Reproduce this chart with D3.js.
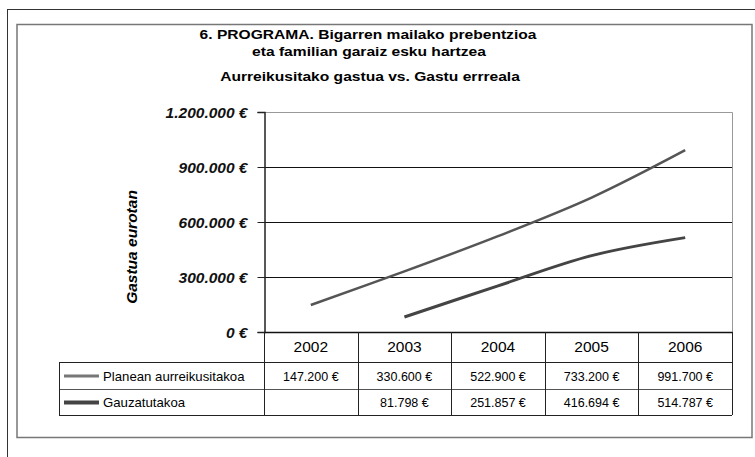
<!DOCTYPE html>
<html>
<head>
<meta charset="utf-8">
<script src="https://cdn.jsdelivr.net/npm/d3@7"></script>
<style>
  body { margin: 0; background: #fff; }
  svg text { font-family: "Liberation Sans", Arial, sans-serif; }
</style>
</head>
<body>
<div id="chart"></div>
<script>
// chart data
const years = ['2002', '2003', '2004', '2005', '2006'];
const planned = [147200, 330600, 522900, 733200, 991700];
const actual = [null, 81798, 251857, 416694, 514787];
const seriesNames = ['Planean aurreikusitakoa', 'Gauzatutakoa'];
const yTicks = [0, 300000, 600000, 900000, 1200000];
const titleLines = ['6. PROGRAMA. Bigarren mailako prebentzioa', 'eta familian garaiz esku hartzea'];
const subtitle = 'Aurreikusitako gastua vs. Gastu errreala';
const yTitle = 'Gastua eurotan';

const width = 755, height = 457;
const plot = { left: 264, right: 732, top: 112, bottom: 332 };
const table = { left: 59, row1: 362, row2: 389, bottom: 415 };

const fmt = v => v.toLocaleString('de-DE') + ' €';

const svg = d3.select('#chart')
    .append('svg')
    .attr('width', width)
    .attr('height', height);

// frames
svg.append('rect')
    .attr('x', 7.5).attr('y', 9.5)
    .attr('width', 760).attr('height', 460)
    .attr('fill', 'none').attr('stroke', '#333').attr('stroke-width', 1);
svg.append('rect')
    .attr('x', 17).attr('y', 24.5)
    .attr('width', 735).attr('height', 413)
    .attr('fill', 'none').attr('stroke', '#777').attr('stroke-width', 1.5);

// titles (the original font is a bit wider, so stretch horizontally)
function wideText(x, y, txt) {
    svg.append('text')
        .attr('transform', `translate(${x},${y}) scale(1.2,1)`)
        .attr('text-anchor', 'middle')
        .attr('font-weight', 'bold')
        .style('font-size', '13px')
        .text(txt);
}
wideText(368, 39, titleLines[0]);
wideText(369, 56, titleLines[1]);
wideText(370, 81, subtitle);

const x = d3.scaleBand()
    .domain(years)
    .range([plot.left, plot.right]);

const y = d3.scaleLinear()
    .domain([0, 1200000])
    .range([plot.bottom, plot.top]);

// plot border (top/right)
svg.append('path')
    .attr('d', `M${plot.left},${plot.top + 0.5}H${plot.right + 0.5}V${plot.bottom}`)
    .attr('fill', 'none').attr('stroke', '#999');

// gridlines
svg.append('g')
    .selectAll('line')
    .data(yTicks.slice(1, -1))
    .enter()
    .append('line')
    .attr('x1', plot.left).attr('x2', plot.right)
    .attr('y1', d => Math.round(y(d)) + 0.5)
    .attr('y2', d => Math.round(y(d)) + 0.5)
    .attr('stroke', '#111');

// y axis
const yAxis = svg.append('g')
    .attr('transform', `translate(${plot.left + 0.5},0)`)
    .call(d3.axisLeft(y).tickValues(yTicks).tickSize(7).tickPadding(10)
        .tickFormat(d => d3.format(',')(d).replace(/,/g, '.') + ' €'));
yAxis.select('.domain').attr('stroke', '#222').attr('stroke-width', 1.5);
yAxis.selectAll('.tick line').attr('stroke', '#222');
yAxis.selectAll('text')
    .attr('dy', '0.36em')
    .style('font-size', '15.5px')
    .style('font-weight', 'bold')
    .style('font-style', 'italic')
    .attr('fill', '#111');

svg.append('text')
    .attr('transform', 'translate(137,247) rotate(-90)')
    .attr('text-anchor', 'middle')
    .style('font-size', '15.5px')
    .style('font-weight', 'bold')
    .style('font-style', 'italic')
    .text(yTitle);

// lines
const line = d3.line()
    .x(d => x(d.year) + x.bandwidth() / 2)
    .y(d => y(d.v))
    .curve(d3.curveCatmullRom.alpha(0.5));

const seriesData = [planned, actual].map(vals => years.map((yr, i) => ({ year: yr, v: vals[i] })));
const lineStyles = [{ color: '#555', w: 2.5 }, { color: '#444', w: 3 }];
const swatchStyles = [{ color: '#777', w: 3 }, { color: '#444', w: 4 }];

svg.append('g')
    .selectAll('path')
    .data(seriesData)
    .enter()
    .append('path')
    .attr('d', d => line(d.filter(p => p.v !== null)))
    .attr('fill', 'none')
    .attr('stroke', (d, i) => lineStyles[i].color)
    .attr('stroke-width', (d, i) => lineStyles[i].w);

// x axis line
svg.append('line')
    .attr('x1', plot.left).attr('x2', plot.right + 0.5)
    .attr('y1', plot.bottom + 0.5).attr('y2', plot.bottom + 0.5)
    .attr('stroke', '#111').attr('stroke-width', 1.5);

// data table
const grid = svg.append('g').attr('stroke', '#222').attr('stroke-width', 1);
grid.append('line')
    .attr('x1', table.left).attr('x2', plot.right)
    .attr('y1', table.row1 + 0.5).attr('y2', table.row1 + 0.5);
grid.append('line')
    .attr('x1', table.left).attr('x2', plot.right)
    .attr('y1', table.row2 + 0.5).attr('y2', table.row2 + 0.5)
    .attr('stroke', '#555');
grid.append('line')
    .attr('x1', table.left).attr('x2', plot.right)
    .attr('y1', table.bottom + 0.5).attr('y2', table.bottom + 0.5);
grid.append('line')
    .attr('x1', table.left + 0.5).attr('x2', table.left + 0.5)
    .attr('y1', table.row1).attr('y2', table.bottom);
grid.selectAll('.col')
    .data(years.map(d => x(d)).concat([plot.right]))
    .enter()
    .append('line')
    .attr('x1', d => Math.round(d) + 0.5).attr('x2', d => Math.round(d) + 0.5)
    .attr('y1', plot.bottom).attr('y2', table.bottom);

svg.append('g')
    .selectAll('text')
    .data(years)
    .enter()
    .append('text')
    .attr('x', d => x(d) + x.bandwidth() / 2)
    .attr('y', 352)
    .attr('text-anchor', 'middle')
    .style('font-size', '15.5px')
    .text(d => d);

const rowsY = [table.row1, table.row2];
seriesData.forEach((s, i) => {
    const cy = (rowsY[i] + (i === 0 ? table.row2 : table.bottom)) / 2;
    svg.append('line')
        .attr('x1', 64).attr('x2', 99)
        .attr('y1', cy + 0.5).attr('y2', cy + 0.5)
        .attr('stroke', swatchStyles[i].color)
        .attr('stroke-width', swatchStyles[i].w);
    svg.append('text')
        .attr('x', 103).attr('y', cy + 5)
        .style('font-size', '13.2px')
        .text(seriesNames[i]);
    svg.append('g')
        .selectAll('text')
        .data(s.filter(p => p.v !== null))
        .enter()
        .append('text')
        .attr('x', d => x(d.year) + x.bandwidth() / 2)
        .attr('y', cy + 5)
        .attr('text-anchor', 'middle')
        .style('font-size', '12.5px')
        .text(d => fmt(d.v));
});
</script>
</body>
</html>
